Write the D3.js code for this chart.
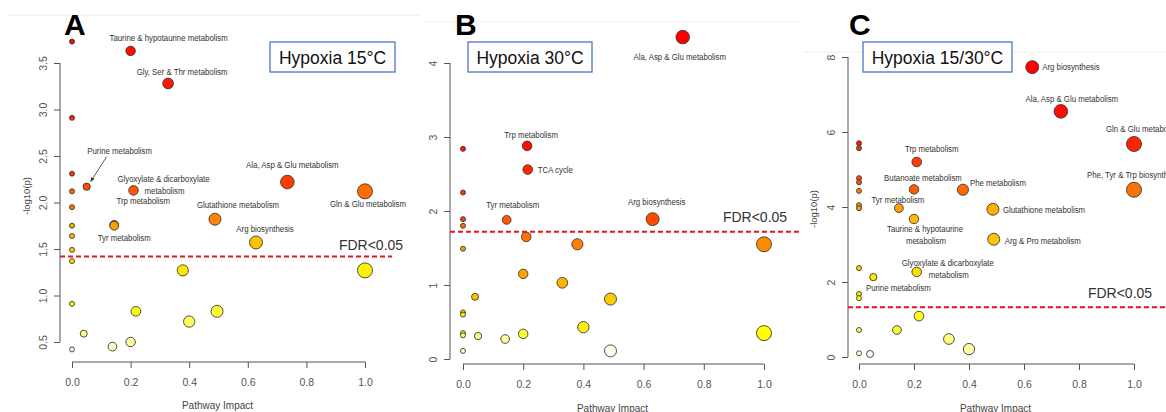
<!DOCTYPE html>
<html>
<head>
<meta charset="utf-8">
<script src="https://cdn.jsdelivr.net/npm/d3@7"></script>
<style>
  body { margin: 0; background: #fff; }
  svg { display: block; font-family: "Liberation Sans", Arial, sans-serif; }
  .lbl { font-family: "Liberation Sans", Arial, sans-serif; font-size: 9px; fill: #333; }
  .tick-lbl { font-size: 10.5px; fill: #555; }
</style>
</head>
<body>
<svg id="chart" width="1166" height="412"></svg>
<script>
// ---- Panel A: Hypoxia 15°C ----
let impactA = [0, 0.2, 0.328, 0, 0, 0.05, 0, 0.21, 0.735, 1.0, 0, 0.144, 0.144, 0.488, 0.628,
  0, 0, 0, 0, 0.378, 1.0, 0, 0.218, 0.495, 0.40, 0.04, 0.2, 0.138, 0];
let logpA = [3.73, 3.63, 3.28, 2.91, 2.31, 2.17, 2.12, 2.13, 2.22, 2.12, 1.95, 1.76, 1.75, 1.82, 1.57,
  1.75, 1.64, 1.49, 1.37, 1.27, 1.27, 0.91, 0.83, 0.83, 0.72, 0.59, 0.50, 0.45, 0.42];
let namesA = ["", "Taurine & hypotaurine metabolism", "Gly, Ser & Thr metabolism", "", "",
  "Purine metabolism", "", "Glyoxylate & dicarboxylate|metabolism", "Ala, Asp & Glu metabolism",
  "Gln & Glu metabolism", "", "Trp metabolism", "Tyr metabolism", "Glutathione metabolism",
  "Arg biosynthesis", "", "", "", "", "", "", "", "", "", "", "", "", "", ""];
let yTicksA = [0.5, 1.0, 1.5, 2.0, 2.5, 3.0, 3.5];
let fdrA = 1.42;

// ---- Panel B: Hypoxia 30°C ----
let impactB = [0.73, 0.213, 0, 0.215, 0, 0, 0, 0.145, 0.63, 0.21, 0.38, 1.0, 0, 0.2, 0.33, 0.04,
  0.49, 0, 0, 0.40, 1.0, 0, 0, 0.05, 0.2, 0.14, 0, 0.49];
let logpB = [4.35, 2.88, 2.84, 2.56, 2.25, 1.89, 1.80, 1.88, 1.89, 1.65, 1.55, 1.55, 1.49, 1.15, 1.03, 0.84,
  0.81, 0.63, 0.60, 0.43, 0.35, 0.35, 0.32, 0.31, 0.34, 0.27, 0.11, 0.11];
let namesB = ["Ala, Asp & Glu metabolism", "Trp metabolism", "", "TCA cycle", "", "", "",
  "Tyr metabolism", "Arg biosynthesis", "", "", "", "", "", "", "", "", "", "", "", "", "", "", "", "", "", "", ""];
let yTicksB = [0, 1, 2, 3, 4];
let fdrB = 1.72;

// ---- Panel C: Hypoxia 15/30°C ----
let impactC = [0.63, 0.734, 1.0, 0, 0, 0.21, 0, 0, 0, 0.2, 0.378, 1.0, 0, 0, 0.145, 0.487, 0.2, 0.49,
  0, 0.21, 0.052, 0, 0, 0.218, 0.138, 0, 0.327, 0.40, 0, 0.04];
let logpC = [7.73, 6.55, 5.68, 5.70, 5.57, 5.20, 4.77, 4.66, 4.43, 4.47, 4.46, 4.46, 4.05, 3.97, 3.97, 3.94,
  3.68, 3.14, 2.37, 2.27, 2.13, 1.68, 1.57, 1.09, 0.72, 0.72, 0.48, 0.21, 0.10, 0.08];
let namesC = ["Arg biosynthesis", "Ala, Asp & Glu metabolism", "Gln & Glu metabolism", "", "",
  "Trp metabolism", "", "", "", "Butanoate metabolism", "Phe metabolism", "Phe, Tyr & Trp biosynthesis",
  "", "", "Tyr metabolism", "Glutathione metabolism", "Taurine & hypotaurine|metabolism",
  "Arg & Pro metabolism", "", "Glyoxylate  & dicarboxylate|metabolism", "Purine metabolism",
  "", "", "", "", "", "", "", "", ""];
let yTicksC = [0, 2, 4, 6, 8];
let fdrC = 1.33;

let xTicks = [0, 0.2, 0.4, 0.6, 0.8, 1.0];

// Layout of each panel (pixel frames, label offsets) kept apart from the data
let panels = [
  { letter: "A", title: "Hypoxia 15°C", impact: impactA, logp: logpA, names: namesA, yTicks: yTicksA, fdr: fdrA,
    xRange: [72, 365], yDomain: [0.5, 3.5], yRange: [342, 63], axisX: 60, axisY: 362, yFmt: d3.format(".1f"),
    fdrEnd: 392, fdrText: [371, 245], letterPos: [64, 35], box: [270, 42, 125, 30], yTitle: [26, 196],
    frameLine: [8, 420, 15], xTitleY: 405, tickLblY: 382,
    offsets: {
      "Taurine & hypotaurine metabolism": [38, -13, "middle"],
      "Gly, Ser & Thr metabolism": [14, -11.5, "middle"],
      "Purine metabolism": [33, -36, "middle"],
      "Glyoxylate & dicarboxylate|metabolism": [30, -12, "middle"],
      "Ala, Asp & Glu metabolism": [5, -17, "middle"],
      "Gln & Glu metabolism": [3, 12, "middle"],
      "Trp metabolism": [29, -24, "middle"],
      "Tyr metabolism": [10, 12, "middle"],
      "Glutathione metabolism": [23, -14, "middle"],
      "Arg biosynthesis": [9, -13.5, "middle"]
    } },
  { letter: "B", title: "Hypoxia 30°C", impact: impactB, logp: logpB, names: namesB, yTicks: yTicksB, fdr: fdrB,
    xRange: [463, 764], yDomain: [0, 4], yRange: [359, 63], axisX: 450, axisY: 364, yFmt: d3.format("d"),
    fdrEnd: 800, fdrText: [755, 217], letterPos: [455, 35], box: [468, 42, 124, 30], yTitle: null,
    frameLine: [425, 800, 22], xTitleY: 408, tickLblY: 384,
    offsets: {
      "Ala, Asp & Glu metabolism": [-3, 20, "middle"],
      "Trp metabolism": [4, -11, "middle"],
      "TCA cycle": [10, 0, "start"],
      "Tyr metabolism": [6, -15, "middle"],
      "Arg biosynthesis": [4, -17, "middle"]
    } },
  { letter: "C", title: "Hypoxia 15/30°C", impact: impactC, logp: logpC, names: namesC, yTicks: yTicksC, fdr: fdrC,
    xRange: [859, 1134], yDomain: [0, 8], yRange: [357, 57], axisX: 848, axisY: 364, yFmt: d3.format("d"),
    fdrEnd: 1166, fdrText: [1120, 293], letterPos: [849, 35], box: [863, 42, 149, 30], yTitle: [813, 209],
    frameLine: [803, 1166, 52], xTitleY: 408, tickLblY: 384,
    offsets: {
      "Arg biosynthesis": [10, 0, "start"],
      "Ala, Asp & Glu metabolism": [11, -13, "middle"],
      "Gln & Glu metabolism": [-28, -15, "start"],
      "Trp metabolism": [15, -13, "middle"],
      "Butanoate metabolism": [9, -12, "middle"],
      "Phe metabolism": [7, -7, "start"],
      "Phe, Tyr & Trp biosynthesis": [-47, -15, "start"],
      "Tyr metabolism": [-1, -8, "middle"],
      "Glutathione metabolism": [10, 1, "start"],
      "Taurine & hypotaurine|metabolism": [11, 10, "middle"],
      "Arg & Pro metabolism": [11, 2, "start"],
      "Glyoxylate  & dicarboxylate|metabolism": [31, -9, "middle"],
      "Purine metabolism": [25, 11, "middle"]
    } }
];

// R's heat.colors(n): red -> yellow, then yellow fading toward white
function heatColors(n) {
  let j = Math.floor(n / 4), i = n - j;
  let cols = [];
  for (let k = 0; k < i; k++) {
    let h = i > 1 ? (k / (i - 1)) * 60 : 0;
    cols.push(d3.hsl(h, 1, 0.5).formatHex());
  }
  for (let k = 0; k < j; k++) {
    let s = j > 1 ? (1 - 1 / (2 * j)) - k * ((1 - 1 / j) / (j - 1)) : 0.5;
    cols.push(d3.rgb(255, 255, Math.round(255 * (1 - s))).formatHex());
  }
  return cols;
}

let svg = d3.select("#chart");

// Marker size follows pathway impact
let rScale = d3.scaleSqrt().domain([0, 1]).range([2.5, 7.5]);

panels.forEach(function(p) {
  let g = svg.append("g");

  // faint edge left over from the pasted panel image
  g.append("line")
    .attr("x1", p.frameLine[0]).attr("x2", p.frameLine[1])
    .attr("y1", p.frameLine[2]).attr("y2", p.frameLine[2])
    .attr("stroke", "#eeeeee").attr("stroke-width", 1);

  let xScale = d3.scaleLinear().domain([0, 1]).range(p.xRange);
  let yScale = d3.scaleLinear().domain(p.yDomain).range(p.yRange);

  // R-style axes: line spans first to last tick, ticks point outwards
  g.append("g")
    .attr("transform", `translate(0, ${p.axisY})`)
    .call(d3.axisBottom(xScale).tickValues(xTicks).tickFormat(d3.format(".1f")).tickSize(6).tickSizeOuter(0))
    .call(function(a) {
      a.select(".domain").attr("stroke", "#555").attr("d", `M${p.xRange[0]},0H${p.xRange[1]}`);
      a.selectAll(".tick line").attr("stroke", "#555");
      a.selectAll(".tick text").attr("class", "tick-lbl").attr("y", p.tickLblY - p.axisY).attr("dy", "0.35em")
        .style("font-family", "Liberation Sans, Arial, sans-serif");
    });

  let yAxis = g.append("g")
    .attr("transform", `translate(${p.axisX}, 0)`)
    .call(d3.axisLeft(yScale).tickValues(p.yTicks).tickFormat(p.yFmt).tickSize(6).tickSizeOuter(0));
  yAxis.select(".domain").attr("stroke", "#555")
    .attr("d", `M0,${yScale(p.yTicks[0])}V${yScale(p.yTicks[p.yTicks.length - 1])}`);
  yAxis.selectAll(".tick line").attr("stroke", "#555");
  yAxis.selectAll(".tick text")
    .attr("class", "tick-lbl")
    .attr("x", null).attr("dy", null)
    .attr("transform", "translate(-17, 0) rotate(-90)")
    .attr("text-anchor", "middle")
    .attr("dominant-baseline", "central")
    .style("font-family", "Liberation Sans, Arial, sans-serif");

  // Axis titles
  g.append("text")
    .attr("x", (p.xRange[0] + p.xRange[1]) / 2 - 1)
    .attr("y", p.xTitleY)
    .attr("text-anchor", "middle")
    .attr("dominant-baseline", "central")
    .style("font-size", "10px").style("fill", "#444")
    .text("Pathway Impact");
  if (p.yTitle) {
    g.append("text")
      .attr("transform", `translate(${p.yTitle[0]}, ${p.yTitle[1]}) rotate(-90)`)
      .attr("text-anchor", "middle")
      .attr("dominant-baseline", "central")
      .style("font-size", "9.5px").style("fill", "#444")
      .text("-log10(p)");
  }

  // FDR threshold
  g.append("line")
    .attr("x1", p.axisX).attr("x2", p.fdrEnd)
    .attr("y1", yScale(p.fdr)).attr("y2", yScale(p.fdr))
    .attr("stroke", "#e3161c").attr("stroke-width", 2).attr("stroke-dasharray", "5,3");
  g.append("text")
    .attr("x", p.fdrText[0]).attr("y", p.fdrText[1])
    .attr("text-anchor", "middle").attr("dominant-baseline", "central")
    .style("font-size", "14px").style("fill", "#333")
    .text("FDR<0.05");

  // Colour by rank of p-value, as MetaboAnalyst does
  let n = p.logp.length;
  let cols = heatColors(n);
  let order = d3.range(n).sort(function(a, b) { return p.logp[b] - p.logp[a]; });
  let colorOf = [];
  order.forEach(function(idx, rank) { colorOf[idx] = cols[rank]; });

  let pts = d3.range(n).map(function(i) {
    return { x: p.impact[i], y: p.logp[i], name: p.names[i], color: colorOf[i] };
  });

  g.selectAll("circle.pt")
    .data(pts)
    .join("circle")
    .attr("class", "pt")
    .attr("cx", function(d) { return xScale(d.x); })
    .attr("cy", function(d) { return yScale(d.y); })
    .attr("r", function(d) { return rScale(d.x); })
    .attr("fill", function(d) { return d.color; })
    .attr("stroke", "#3a3a3a")
    .attr("stroke-width", 0.9);

  // Pathway labels (squeezed horizontally, the original uses a narrow face)
  pts.filter(function(d) { return d.name; }).forEach(function(d) {
    let off = p.offsets[d.name];
    let lines = d.name.split("|");
    lines.forEach(function(line, k) {
      let lx = xScale(d.x) + off[0] + (k > 0 ? 1 : 0);
      let ly = yScale(d.y) + off[1] + k * 12;
      g.append("text")
        .attr("class", "lbl")
        .attr("transform", `translate(${lx}, ${ly}) scale(0.87, 1)`)
        .attr("text-anchor", off[2])
        .attr("dominant-baseline", "central")
        .text(line);
    });
  });

  // Title box
  g.append("rect")
    .attr("x", p.box[0]).attr("y", p.box[1])
    .attr("width", p.box[2]).attr("height", p.box[3])
    .attr("fill", "#fff").attr("stroke", "#4a78c8").attr("stroke-width", 1.3);
  g.append("text")
    .attr("x", p.box[0] + p.box[2] / 2).attr("y", p.box[1] + p.box[3] / 2 + 1)
    .attr("text-anchor", "middle").attr("dominant-baseline", "central")
    .style("font-size", "17.5px").style("fill", "#111")
    .text(p.title);

  // Panel letter
  g.append("text")
    .attr("x", p.letterPos[0]).attr("y", p.letterPos[1])
    .style("font-size", "30px").style("font-weight", "bold").style("fill", "#000")
    .text(p.letter);
});

// Arrow pointing at the purine point in panel A
let xA = d3.scaleLinear().domain([0, 1]).range(panels[0].xRange);
let yA = d3.scaleLinear().domain(panels[0].yDomain).range(panels[0].yRange);
let px = xA(impactA[5]), py = yA(logpA[5]);
svg.append("defs").append("marker")
  .attr("id", "arr").attr("viewBox", "0 0 10 10").attr("refX", 9).attr("refY", 5)
  .attr("markerWidth", 6).attr("markerHeight", 6).attr("orient", "auto")
  .append("path").attr("d", "M0,1L10,5L0,9z").attr("fill", "#333");
svg.append("line")
  .attr("x1", px + 20).attr("y1", py - 30)
  .attr("x2", px + 4).attr("y2", py - 5)
  .attr("stroke", "#333").attr("stroke-width", 0.8)
  .attr("marker-end", "url(#arr)");
</script>
</body>
</html>
